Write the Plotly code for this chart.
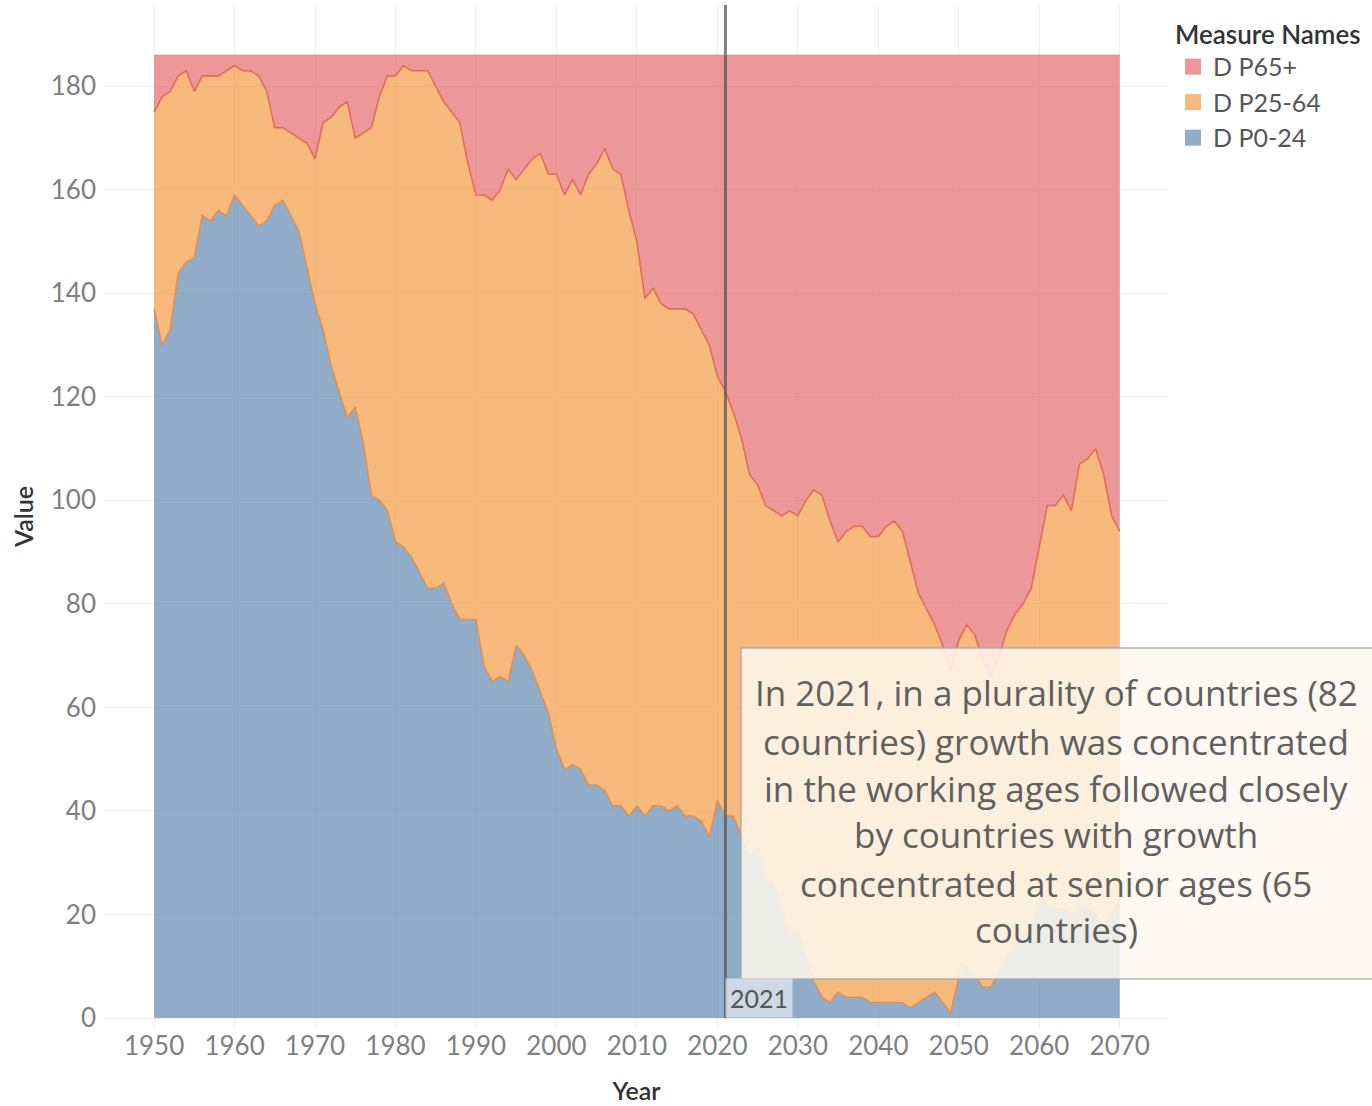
import plotly.graph_objects as go

years = list(range(1950, 2071))

# D P0-24 (number of countries, bottom layer)
p0_24 = [137, 130, 133, 144, 146, 147, 155, 154, 156, 155,
         159, 157, 155, 153, 154, 157, 158, 155, 152, 145,
         138, 133, 126, 121, 116, 118, 111, 101, 100, 98,
         92, 91, 89, 86, 83, 83, 84, 80, 77, 77,
         77, 68, 65, 66, 65, 72, 70, 67, 63, 59,
         52, 48, 49, 48, 45, 45, 44, 41, 41, 39,
         41, 39, 41, 41, 40, 41, 39, 39, 38, 35,
         42, 39, 39, 35, 31, 33, 27, 26, 21, 16,
         17, 12, 7, 4, 3, 5, 4, 4, 4, 3,
         3, 3, 3, 3, 2, 3, 4, 5, 3, 1,
         8, 10, 8, 6, 6, 9, 12, 14, 16, 17,
         23, 22, 21, 21, 20, 22, 21, 20, 18, 20,
         23]

# D P25-64 (middle layer)
p25_64 = [38, 48, 46, 38, 37, 32, 27, 28, 26, 28,
          25, 26, 28, 29, 25, 15, 14, 16, 18, 24,
          28, 40, 48, 55, 61, 52, 60, 71, 78, 84,
          90, 93, 94, 97, 100, 97, 93, 95, 96, 88,
          82, 91, 93, 94, 99, 90, 94, 99, 104, 104,
          111, 111, 113, 111, 118, 120, 124, 123, 122, 117,
          109, 100, 100, 97, 97, 96, 98, 97, 95, 95,
          82, 82, 78, 77, 74, 70, 72, 72, 76, 82,
          80, 88, 95, 97, 93, 87, 90, 91, 91, 90,
          90, 92, 93, 91, 86, 79, 75, 71, 69, 66,
          65, 66, 66, 63, 60, 61, 63, 64, 64, 66,
          68, 77, 78, 80, 78, 85, 87, 90, 87, 77,
          71]

# D P65+ (top layer)
p65 = [11, 8, 7, 4, 3, 7, 4, 4, 4, 3,
       2, 3, 3, 4, 7, 14, 14, 15, 16, 17,
       20, 13, 12, 10, 9, 16, 15, 14, 8, 4,
       4, 2, 3, 3, 3, 6, 9, 11, 13, 21,
       27, 27, 28, 26, 22, 24, 22, 20, 19, 23,
       23, 27, 24, 27, 23, 21, 18, 22, 23, 30,
       36, 47, 45, 48, 49, 49, 49, 50, 53, 56,
       62, 65, 69, 74, 81, 83, 87, 88, 89, 88,
       89, 86, 84, 85, 90, 94, 92, 91, 91, 93,
       93, 91, 90, 92, 98, 104, 107, 110, 114, 119,
       113, 110, 112, 117, 120, 116, 111, 108, 106, 103,
       95, 87, 87, 85, 88, 79, 78, 76, 81, 89,
       92]

series_names = ["D P0-24", "D P25-64", "D P65+"]
fill_colors = ["rgba(78,121,167,0.62)", "rgba(242,142,43,0.62)", "rgba(225,87,89,0.62)"]
line_colors = ["rgba(228,140,70,0.9)", "rgba(226,100,90,0.9)", "rgba(225,87,89,0.35)"]
swatch_colors = ["#93ACC8", "#F4B97D", "#EB989B"]

x_ticks = list(range(1950, 2071, 10))
y_ticks = list(range(0, 181, 20))

note_lines = [
    "In 2021, in a plurality of countries (82",
    "countries) growth was concentrated",
    "in the working ages followed closely",
    "by countries with growth",
    "concentrated at senior ages (65",
    "countries)",
]
marker_year = 2021

FONT = "Lato"
NOTE_FONT = "Open Sans"

fig = go.Figure()
for name, vals, fc, lc in zip(series_names, [p0_24, p25_64, p65], fill_colors, line_colors):
    fig.add_trace(go.Scatter(
        x=years, y=vals, name=name, stackgroup="one", mode="lines",
        line=dict(width=1.6, color=lc), fillcolor=fc, showlegend=False,
        hoverinfo="x+y+name",
    ))

# legend entries (top to bottom: P65+, P25-64, P0-24)
for name, sc in zip(series_names[::-1], swatch_colors[::-1]):
    fig.add_trace(go.Scatter(
        x=[None], y=[None], name=name, mode="markers",
        marker=dict(symbol="square", size=18, color=sc),
        showlegend=True,
    ))

# 2021 reference line
fig.add_shape(type="line", xref="x", yref="y", x0=marker_year, x1=marker_year,
              y0=0, y1=195.7, line=dict(color="rgba(85,85,85,0.75)", width=3), layer="above")

# annotation box
fig.add_shape(type="rect", xref="paper", yref="paper",
              x0=0.5983, x1=1.2, y0=0.0479, y1=0.3715,
              fillcolor="rgba(253,248,238,0.86)",
              line=dict(color="rgba(170,170,170,0.9)", width=1.5), layer="above")

line_y = [0.3275, 0.2805, 0.2346, 0.1887, 0.1417, 0.0958]
for txt, yy in zip(note_lines, line_y):
    fig.add_annotation(xref="paper", yref="paper", x=0.8951, y=yy, text=txt,
                       showarrow=False, xanchor="center", yanchor="middle",
                       font=dict(family=NOTE_FONT, size=35, color="#606060"))

# 2021 label
fig.add_annotation(xref="x", yref="y", x=marker_year, y=0, text=str(marker_year),
                   showarrow=False, xanchor="left", yanchor="bottom",
                   bgcolor="rgba(255,255,255,0.55)", borderpad=4, xshift=0,
                   font=dict(family=FONT, size=25, color="#555555"))

fig.update_layout(
    width=1372, height=1106,
    margin=dict(l=105, r=204, t=5, b=78),
    plot_bgcolor="white", paper_bgcolor="white",
    font=dict(family=FONT, color="#555555"),
    xaxis=dict(range=[1943.9, 2076], tickvals=x_ticks, showgrid=True, automargin=False,
               gridcolor="#efefef", gridwidth=1, zeroline=False, showline=False,
               ticks="", tickfont=dict(family=FONT, size=26, color="#808080"),
               title=dict(text="Year", font=dict(family=FONT, size=25, color="#333333", weight=600),
                          standoff=22)),
    yaxis=dict(range=[-1.93, 195.7], tickvals=y_ticks, showgrid=True, automargin=False,
               gridcolor="#efefef", gridwidth=1, zeroline=False, showline=False,
               ticks="", tickfont=dict(family=FONT, size=26, color="#808080"),
               ticklabelstandoff=8,
               title=dict(text="Value", font=dict(family=FONT, size=25, color="#333333", weight=600),
                          standoff=10)),
    legend=dict(title=dict(text="Measure Names",
                           font=dict(family=FONT, size=26, color="#333333", weight=600)),
                font=dict(family=FONT, size=25, color="#555555"),
                x=1.0047, xanchor="left", y=0.995, yanchor="top",
                bgcolor="rgba(0,0,0,0)", traceorder="normal", itemsizing="trace"),
    hovermode="x unified",
)

fig.write_html("out.html", config={"displayModeBar": False},
               post_script="document.body.style.margin='0';document.body.style.padding='0';")
